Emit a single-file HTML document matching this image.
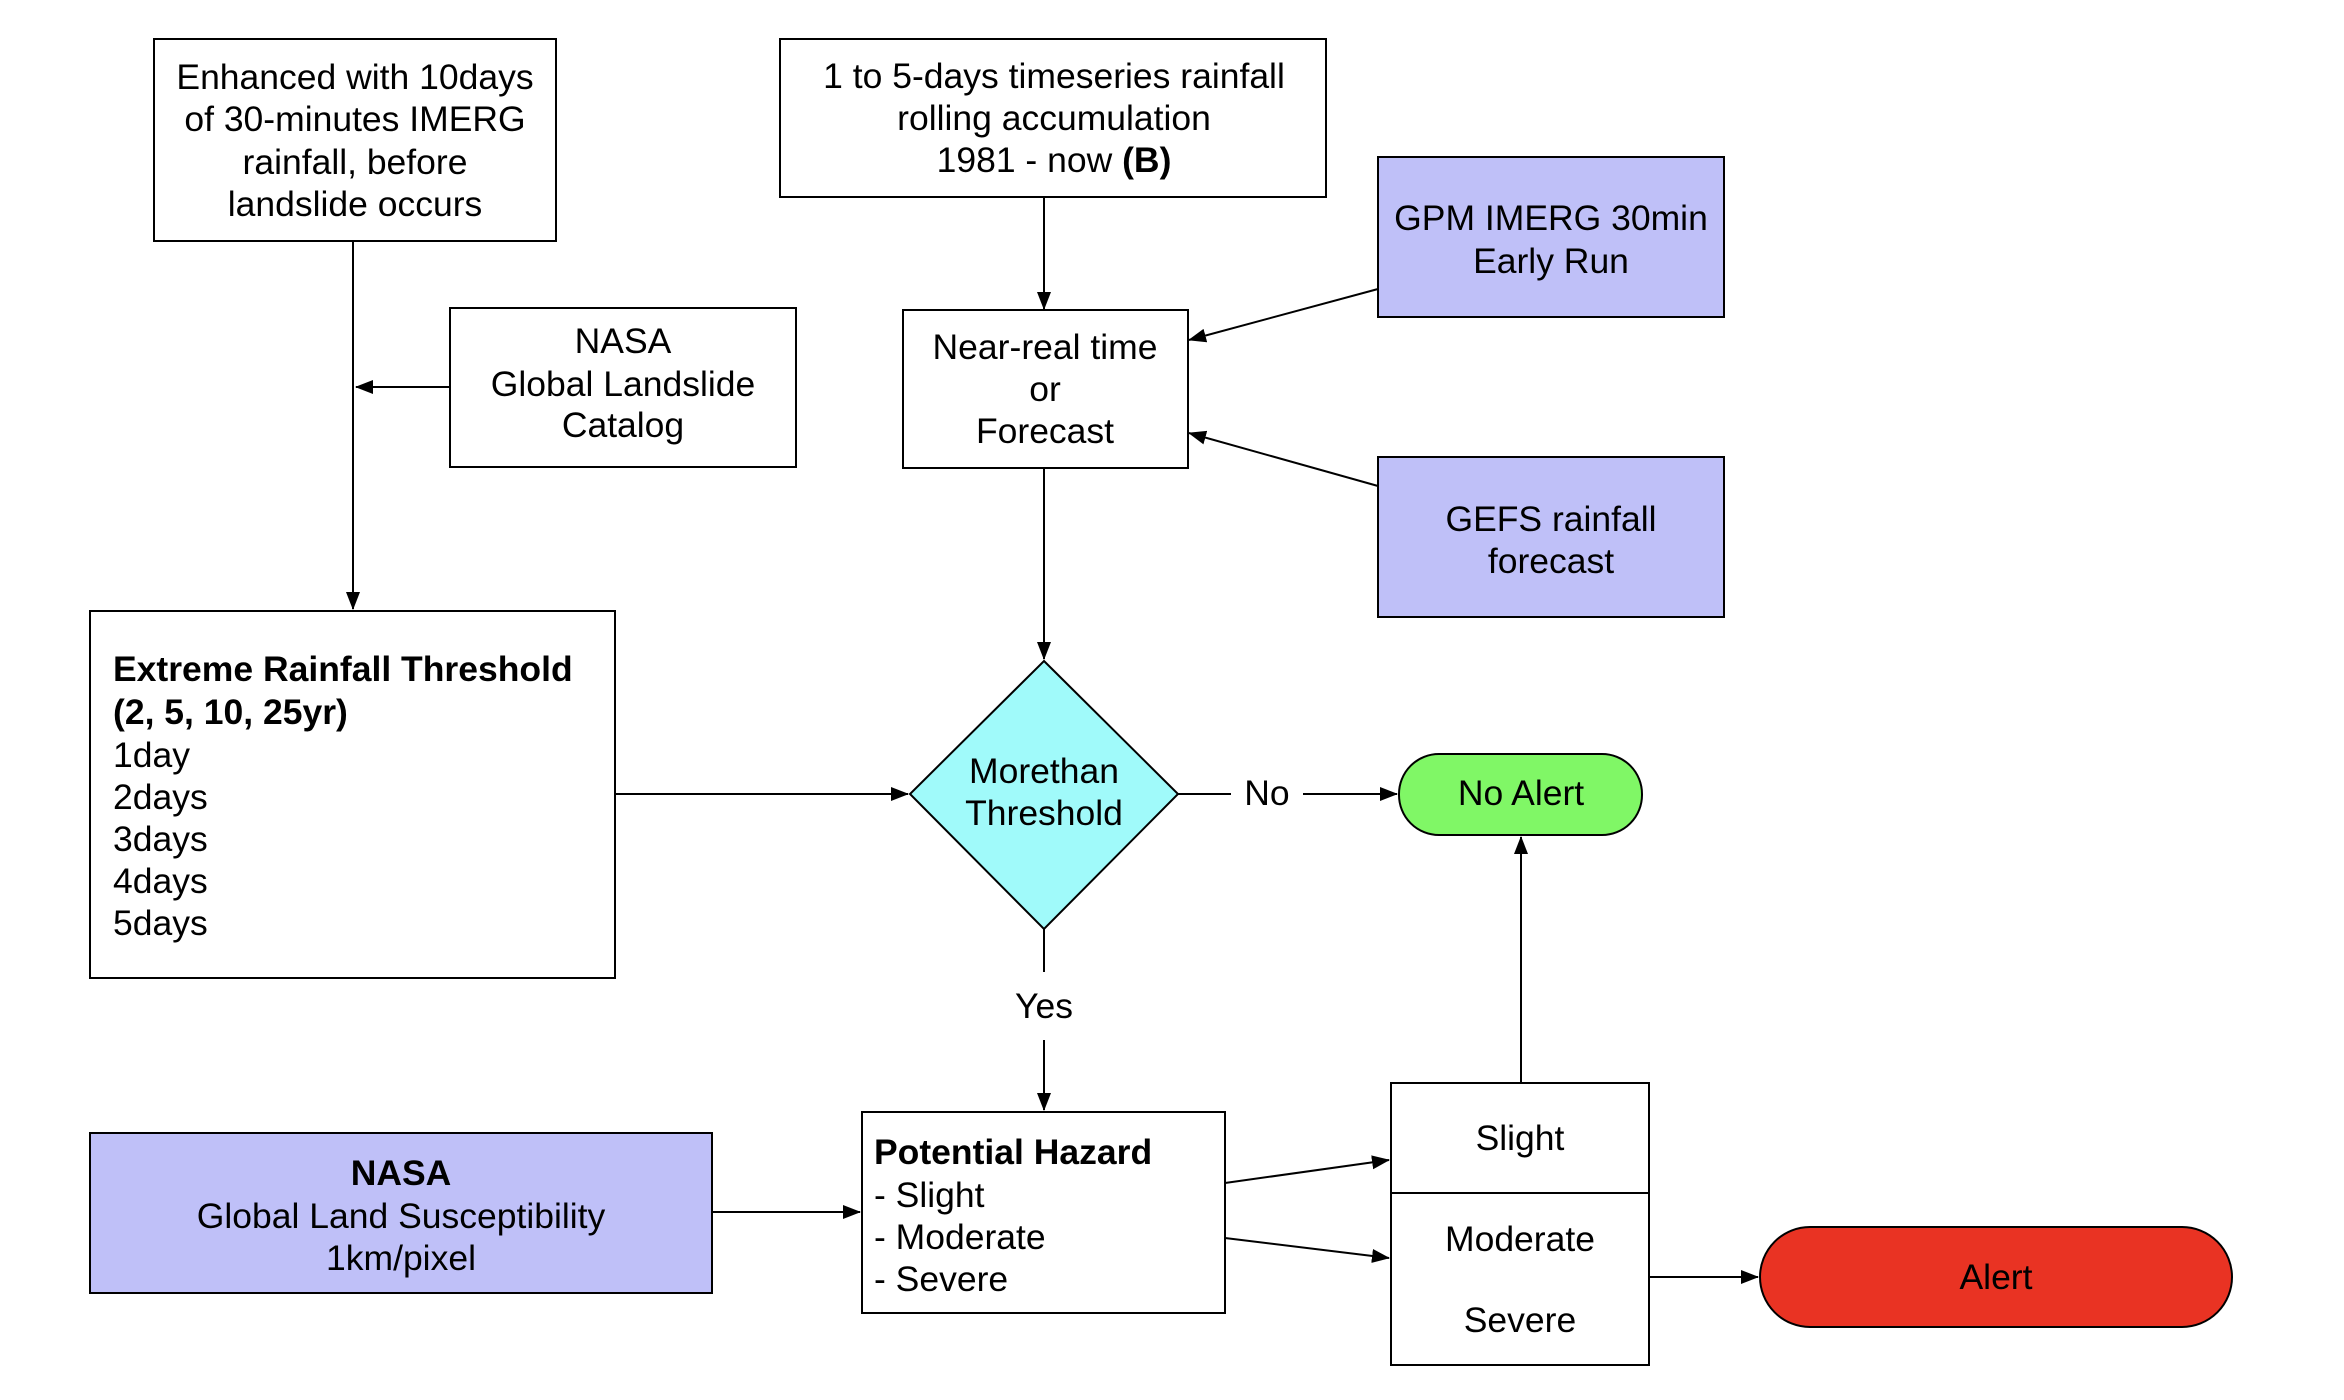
<!DOCTYPE html>
<html><head><meta charset="utf-8"><style>
html,body{margin:0;padding:0;background:#fff;}
svg{display:block;}
text{font-family:"Liberation Sans",Arial,sans-serif;font-size:35.5px;fill:#000;}
</style></head><body>
<svg width="2344" height="1400" viewBox="0 0 2344 1400" xmlns="http://www.w3.org/2000/svg">
<defs>
<marker id="a" markerWidth="18" markerHeight="14" refX="17" refY="7" orient="auto" markerUnits="userSpaceOnUse">
<path d="M0,0 L18,7 L0,14 z" fill="#000"/></marker>
</defs>
<g fill="none" stroke="#000" stroke-width="2">
<rect x="154" y="39" width="402" height="202" fill="#fff"/>
<rect x="780" y="39" width="546" height="158" fill="#fff"/>
<rect x="450" y="308" width="346" height="159" fill="#fff"/>
<rect x="903" y="310" width="285" height="158" fill="#fff"/>
<rect x="1378" y="157" width="346" height="160" fill="#bfc0f8"/>
<rect x="1378" y="457" width="346" height="160" fill="#bfc0f8"/>
<rect x="90" y="611" width="525" height="367" fill="#fff"/>
<polygon points="1044,661 1178,794 1044,929 910,794" fill="#a0fafa"/>
<rect x="1399" y="754" width="243" height="81" rx="40" fill="#80f766"/>
<rect x="90" y="1133" width="622" height="160" fill="#bfc0f8"/>
<rect x="862" y="1112" width="363" height="201" fill="#fff"/>
<rect x="1391" y="1083" width="258" height="282" fill="#fff"/>
<line x1="1391" y1="1193" x2="1649" y2="1193"/>
<rect x="1760" y="1227" width="472" height="100" rx="50" fill="#e93323"/>

<line x1="353" y1="241" x2="353" y2="609" marker-end="url(#a)"/>
<line x1="450" y1="387" x2="356" y2="387" marker-end="url(#a)"/>
<line x1="1044" y1="197" x2="1044" y2="309" marker-end="url(#a)"/>
<line x1="1378" y1="289" x2="1189" y2="340" marker-end="url(#a)"/>
<line x1="1378" y1="486" x2="1189" y2="433" marker-end="url(#a)"/>
<line x1="1044" y1="468" x2="1044" y2="659" marker-end="url(#a)"/>
<line x1="615" y1="794" x2="908" y2="794" marker-end="url(#a)"/>
<line x1="1178" y1="794" x2="1231" y2="794"/>
<line x1="1303" y1="794" x2="1397" y2="794" marker-end="url(#a)"/>
<line x1="1044" y1="929" x2="1044" y2="972"/>
<line x1="1044" y1="1040" x2="1044" y2="1110" marker-end="url(#a)"/>
<line x1="712" y1="1212" x2="860" y2="1212" marker-end="url(#a)"/>
<line x1="1225" y1="1183" x2="1389" y2="1160" marker-end="url(#a)"/>
<line x1="1225" y1="1238" x2="1389" y2="1258" marker-end="url(#a)"/>
<line x1="1521" y1="1083" x2="1521" y2="837" marker-end="url(#a)"/>
<line x1="1649" y1="1277" x2="1758" y2="1277" marker-end="url(#a)"/>
</g>
<g text-anchor="middle" dominant-baseline="central">
<text x="355" y="77">Enhanced with 10days</text>
<text x="355" y="119">of 30-minutes IMERG</text>
<text x="355" y="162">rainfall, before</text>
<text x="355" y="204">landslide occurs</text>
<text x="1054" y="76">1 to 5-days timeseries rainfall</text>
<text x="1054" y="118">rolling accumulation</text>
<text x="1054" y="160">1981 - now <tspan font-weight="bold">(B)</tspan></text>
<text x="623" y="341">NASA</text>
<text x="623" y="384">Global Landslide</text>
<text x="623" y="425">Catalog</text>
<text x="1045" y="347">Near-real time</text>
<text x="1045" y="389">or</text>
<text x="1045" y="431">Forecast</text>
<text x="1551" y="218">GPM IMERG 30min</text>
<text x="1551" y="261">Early Run</text>
<text x="1551" y="519">GEFS rainfall</text>
<text x="1551" y="561">forecast</text>
<text x="1044" y="771">Morethan</text>
<text x="1044" y="813">Threshold</text>
<text x="1267" y="793">No</text>
<text x="1521" y="793">No Alert</text>
<text x="1044" y="1006">Yes</text>
<text x="401" y="1173" font-weight="bold">NASA</text>
<text x="401" y="1216">Global Land Susceptibility</text>
<text x="401" y="1258">1km/pixel</text>
<text x="1520" y="1138">Slight</text>
<text x="1520" y="1239">Moderate</text>
<text x="1520" y="1320">Severe</text>
<text x="1996" y="1277">Alert</text>
</g>
<g dominant-baseline="central">
<text x="113" y="669" font-weight="bold">Extreme Rainfall Threshold</text>
<text x="113" y="712" font-weight="bold">(2, 5, 10, 25yr)</text>
<text x="113" y="755">1day</text>
<text x="113" y="797">2days</text>
<text x="113" y="839">3days</text>
<text x="113" y="881">4days</text>
<text x="113" y="923">5days</text>
<text x="874" y="1152" font-weight="bold">Potential Hazard</text>
<text x="874" y="1195">- Slight</text>
<text x="874" y="1237">- Moderate</text>
<text x="874" y="1279">- Severe</text>
</g>
</svg>
</body></html>
